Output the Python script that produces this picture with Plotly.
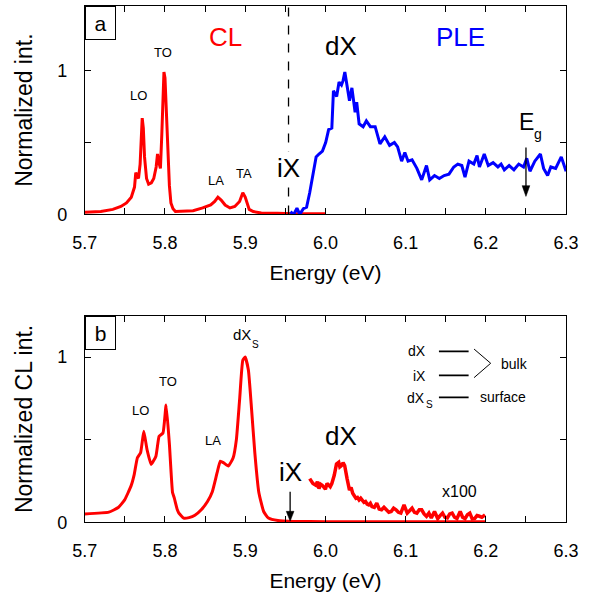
import plotly.graph_objects as go

# ---------------- data ----------------
# Panel a: CL spectrum (red)
cl_a_energy = [5.700, 5.720, 5.735, 5.745, 5.752, 5.758, 5.762, 5.7636, 5.766, 5.767, 5.769,
               5.7705, 5.7716, 5.773, 5.7745, 5.777, 5.7796, 5.783, 5.786, 5.789, 5.7907,
               5.7925, 5.7943, 5.796, 5.7975, 5.7987, 5.800, 5.8015, 5.8035, 5.8055, 5.8074,
               5.810, 5.813, 5.825, 5.835, 5.847, 5.857, 5.862, 5.866, 5.870, 5.875, 5.881,
               5.887, 5.893, 5.897, 5.900, 5.903, 5.905, 5.910, 5.920, 5.940, 5.960, 6.000]
cl_a_int = [0.015, 0.02, 0.035, 0.055, 0.08, 0.12, 0.19, 0.29, 0.26, 0.25, 0.35,
            0.55, 0.67, 0.60, 0.40, 0.25, 0.21, 0.22, 0.25, 0.33, 0.42,
            0.36, 0.32, 0.55, 0.85, 0.99, 0.95, 0.75, 0.42, 0.20, 0.08,
            0.04, 0.02, 0.02, 0.025, 0.045, 0.066, 0.09, 0.12, 0.10, 0.065, 0.045,
            0.055, 0.09, 0.15, 0.12, 0.06, 0.035, 0.02, 0.01, 0.008, 0.005, 0.005]

# Panel a: PLE spectrum (blue)
ple_energy = [5.9566, 5.960, 5.9645, 5.968, 5.9725, 5.9765, 5.9804, 5.9844, 5.9884, 5.992,
              5.9963, 6.0003, 6.004, 6.008, 6.010, 6.014, 6.017, 6.020, 6.022, 6.0242,
              6.028, 6.030, 6.033, 6.037, 6.039, 6.042, 6.047, 6.051, 6.056, 6.062,
              6.068, 6.074, 6.080, 6.086, 6.090, 6.095, 6.099, 6.103, 6.108, 6.114,
              6.120, 6.126, 6.130, 6.136, 6.142, 6.148, 6.154, 6.160, 6.165, 6.170,
              6.174, 6.179, 6.185, 6.189, 6.192, 6.198, 6.203, 6.209, 6.215, 6.219,
              6.223, 6.229, 6.235, 6.241, 6.247, 6.251, 6.255, 6.261, 6.268, 6.272,
              6.277, 6.281, 6.287, 6.294, 6.300]
ple_int = [0.02, -0.005, 0.043, 0.0, 0.04, 0.05, 0.15, 0.28, 0.40, 0.42,
           0.44, 0.50, 0.59, 0.60, 0.86, 0.82, 0.92, 0.90, 0.93, 0.99,
           0.87, 0.79, 0.88, 0.71, 0.78, 0.63, 0.61, 0.65, 0.61, 0.61,
           0.49, 0.54, 0.48, 0.50, 0.47, 0.37, 0.43, 0.37, 0.38, 0.32,
           0.24, 0.34, 0.24, 0.27, 0.25, 0.27, 0.28, 0.33, 0.35, 0.34,
           0.26, 0.37, 0.35, 0.41, 0.33, 0.42, 0.34, 0.36, 0.33, 0.35,
           0.31, 0.34, 0.31, 0.35, 0.33, 0.39, 0.30, 0.37, 0.42, 0.32,
           0.27, 0.33, 0.32, 0.40, 0.30]

# Panel b: CL spectrum (red)
cl_b_energy = [5.700, 5.730, 5.7418, 5.7497, 5.7577, 5.7617, 5.7656, 5.7696, 5.7736, 5.7776,
               5.7827, 5.7887, 5.7927, 5.7975, 5.8014, 5.8054, 5.8094, 5.8114, 5.8154, 5.8173,
               5.8233, 5.8300, 5.8373, 5.8452, 5.8530, 5.8590, 5.8650, 5.8690, 5.8730, 5.8790,
               5.8850, 5.8890, 5.8930, 5.8970, 5.9000, 5.9040, 5.9080, 5.9120, 5.9170, 5.9230,
               5.9290, 5.9407, 5.960, 6.000, 6.200]
cl_b_int = [0.05, 0.061, 0.089, 0.135, 0.22, 0.29, 0.39, 0.42, 0.55, 0.44,
            0.35, 0.40, 0.52, 0.54, 0.71, 0.48, 0.18, 0.15, 0.075, 0.055,
            0.025, 0.028, 0.042, 0.075, 0.125, 0.185, 0.30, 0.37, 0.36, 0.34,
            0.39, 0.50, 0.74, 0.98, 1.00, 0.92, 0.68, 0.42, 0.18, 0.065,
            0.025, 0.01, 0.005, 0.003, 0.003]

# Panel b: CL x100 (red)
x100_energy = [5.9804, 5.9844, 5.988, 5.990, 5.992, 5.994, 5.996, 5.998, 6.000, 6.002,
               6.004, 6.006, 6.008, 6.011, 6.0138, 6.0166, 6.018, 6.020, 6.022, 6.024,
               6.027, 6.030, 6.032, 6.034, 6.036, 6.038, 6.040, 6.042, 6.044, 6.046,
               6.048, 6.050, 6.052, 6.054, 6.056, 6.058, 6.061, 6.064, 6.067, 6.070,
               6.073, 6.076, 6.079, 6.082, 6.085, 6.088, 6.091, 6.094, 6.098, 6.102,
               6.105, 6.108, 6.111, 6.114, 6.117, 6.120, 6.123, 6.126, 6.129, 6.132,
               6.136, 6.140, 6.143, 6.146, 6.149, 6.152, 6.155, 6.158, 6.161, 6.164,
               6.168, 6.171, 6.174, 6.177, 6.180, 6.183, 6.186, 6.189, 6.192, 6.195,
               6.199]
x100_int = [0.264, 0.234, 0.224, 0.245, 0.204, 0.23, 0.224, 0.21, 0.20, 0.235,
            0.224, 0.215, 0.234, 0.284, 0.353, 0.363, 0.335, 0.343, 0.36, 0.343,
            0.264, 0.194, 0.21, 0.175, 0.16, 0.145, 0.15, 0.135, 0.145, 0.135,
            0.12, 0.125, 0.11, 0.105, 0.115, 0.095, 0.09, 0.115, 0.08, 0.075,
            0.09, 0.075, 0.06, 0.065, 0.085, 0.075, 0.06, 0.055, 0.105, 0.055,
            0.07, 0.085, 0.06, 0.055, 0.075, 0.075, 0.05, 0.036, 0.055, 0.026,
            0.065, 0.022, 0.04, 0.055, 0.03, 0.026, 0.05, 0.055, 0.03, 0.022,
            0.065, 0.03, 0.022, 0.045, 0.055, 0.02, 0.022, 0.04, 0.036, 0.03,
            0.045]

x_tickvals = [5.7, 5.8, 5.9, 6.0, 6.1, 6.2, 6.3]
x_ticktext = ["5.7", "5.8", "5.9", "6.0", "6.1", "6.2", "6.3"]
x_minorvals = [5.75, 5.85, 5.95, 6.05, 6.15, 6.25]
y_tickvals = [0, 1]
y_ticktext = ["0", "1"]
y_minorvals = [0.5]

RED = "#ff0000"
BLUE = "#0000ff"
FONT = "Liberation Sans, Arial, sans-serif"

fig = go.Figure()
fig.add_trace(go.Scatter(x=cl_a_energy, y=cl_a_int, mode="lines",
                         line=dict(color=RED, width=3), xaxis="x", yaxis="y"))
fig.add_trace(go.Scatter(x=ple_energy, y=ple_int, mode="lines",
                         line=dict(color=BLUE, width=3), xaxis="x", yaxis="y"))
fig.add_trace(go.Scatter(x=cl_b_energy, y=cl_b_int, mode="lines",
                         line=dict(color=RED, width=3, shape="spline", smoothing=0.4),
                         xaxis="x2", yaxis="y2"))
fig.add_trace(go.Scatter(x=x100_energy, y=x100_int, mode="lines",
                         line=dict(color=RED, width=3.5), xaxis="x2", yaxis="y2"))

axis_common = dict(showline=True, linecolor="black", linewidth=1, mirror="ticks",
                   ticks="inside", ticklen=6, tickcolor="black", showgrid=False,
                   zeroline=False, tickfont=dict(size=18, color="black", family=FONT))
minor_common = dict(ticks="inside", ticklen=6, tickcolor="black", showgrid=False)

xdom = [75 / 603, 578 / 603]
fig.update_layout(
    width=603, height=605, margin=dict(l=0, r=0, t=0, b=0),
    paper_bgcolor="white", plot_bgcolor="white", showlegend=False,
    font=dict(family=FONT, color="black"),
    xaxis=dict(domain=xdom, range=[5.7, 6.3], tickmode="array", tickvals=x_tickvals,
               ticktext=x_ticktext, anchor="y", ticklabelstandoff=12,
               minor=dict(tickmode="array", tickvals=x_minorvals, **minor_common),
               title=dict(text="Energy (eV)", font=dict(size=21), standoff=13), **axis_common),
    yaxis=dict(domain=[1 - 218 / 605, 1 - 6 / 605], range=[0, 1.45], tickmode="array",
               tickvals=y_tickvals, ticktext=y_ticktext, anchor="x", ticklabelstandoff=13,
               minor=dict(tickmode="array", tickvals=y_minorvals, **minor_common),
               title=dict(text="Normalized int.", font=dict(size=23), standoff=18), **axis_common),
    xaxis2=dict(domain=xdom, range=[5.7, 6.3], tickmode="array", tickvals=x_tickvals,
                ticktext=x_ticktext, anchor="y2", ticklabelstandoff=12,
                minor=dict(tickmode="array", tickvals=x_minorvals, **minor_common),
                title=dict(text="Energy (eV)", font=dict(size=21), standoff=13), **axis_common),
    yaxis2=dict(domain=[1 - 531 / 605, 1 - 321 / 605], range=[0, 1.25], tickmode="array",
                tickvals=y_tickvals, ticktext=y_ticktext, anchor="x2", ticklabelstandoff=13,
                minor=dict(tickmode="array", tickvals=y_minorvals, **minor_common),
                title=dict(text="Normalized CL int.", font=dict(size=23), standoff=18), **axis_common),
)

ann = []
def txt(x, y, text, size, color="black", ref="", **kw):
    d = dict(x=x, y=y, text=text, showarrow=False, xref="x" + ref, yref="y" + ref,
             font=dict(size=size, color=color, family=FONT))
    d.update(kw)
    ann.append(d)

# panel labels
for ref, lab in [("", "a"), ("2", "b")]:
    ann.append(dict(x=0, y=1, xref="x%s domain" % ref, yref="y%s domain" % ref,
                    xanchor="left", yanchor="top", text=lab, showarrow=False,
                    font=dict(size=21, color="black", family=FONT),
                    bordercolor="black", borderwidth=1, borderpad=0, width=29, height=32,
                    bgcolor="white"))

# panel a texts
txt(5.8754, 1.231, "CL", 26, RED)
txt(6.0198, 1.17, "dX", 26)
txt(6.169, 1.231, "PLE", 26, BLUE)
txt(5.954, 0.32, "iX", 26, bgcolor="white")
txt(5.797, 1.129, "TO", 13)
txt(5.767, 0.828, "LO", 13)
txt(5.8635, 0.233, "LA", 13)
txt(5.898, 0.287, "TA", 13)
txt(6.2501, 0.646, "E", 23)
txt(6.2644, 0.561, "g", 14)

# panel b texts
txt(5.7696, 0.677, "LO", 13, ref="2")
txt(5.8035, 0.849, "TO", 13, ref="2")
txt(5.860, 0.494, "LA", 13, ref="2")
txt(5.8965, 1.137, "dX", 15, ref="2")
txt(5.9125, 1.0756, "S", 10, ref="2")
txt(5.9566, 0.304, "iX", 26, ref="2")
txt(6.020, 0.522, "dX", 26, ref="2")
txt(6.1673, 0.185, "x100", 16, ref="2")
txt(6.1284, 1.034, "dX", 14, ref="2", xanchor="right")
txt(6.1284, 0.885, "iX", 14, ref="2", xanchor="right")
txt(6.1270, 0.75, "dX", 14, ref="2", xanchor="right")
txt(6.1300, 0.714, "S", 10, ref="2")
txt(6.2159, 0.958, "bulk", 14, ref="2", xanchor="left")
txt(6.1905, 0.758, "surface", 14, ref="2", xanchor="left")

shapes = [
    dict(type="line", xref="x", yref="y domain", x0=5.954, x1=5.954, y0=0, y1=1,
         line=dict(color="black", width=1.3, dash="dash")),
]

def arrow(ref, x, ytop, ybot, head_h, half_w=0.0048):
    shapes.append(dict(type="line", xref="x" + ref, yref="y" + ref, x0=x, x1=x,
                       y0=ytop, y1=ybot + head_h * 0.5, line=dict(color="black", width=1.3)))
    shapes.append(dict(type="path", xref="x" + ref, yref="y" + ref,
                       path="M %f %f L %f %f L %f %f Z" % (x - half_w, ybot + head_h, x + half_w,
                                                           ybot + head_h, x, ybot),
                       fillcolor="black", line=dict(color="black", width=0.5)))

arrow("", 6.25, 0.465, 0.125, 0.075)
arrow("2", 5.956, 0.185, 0.006, 0.06)

for yv in [1.034, 0.889, 0.756]:
    shapes.append(dict(type="line", xref="x2", yref="y2", x0=6.1415, x1=6.1785, y0=yv, y1=yv,
                       line=dict(color="black", width=1.8)))
shapes.append(dict(type="path", xref="x2", yref="y2",
                   path="M 6.1853 1.048 L 6.2060 0.962 L 6.1853 0.875",
                   line=dict(color="black", width=1)))

fig.update_layout(annotations=ann, shapes=shapes)
fig.write_html("out.html")
